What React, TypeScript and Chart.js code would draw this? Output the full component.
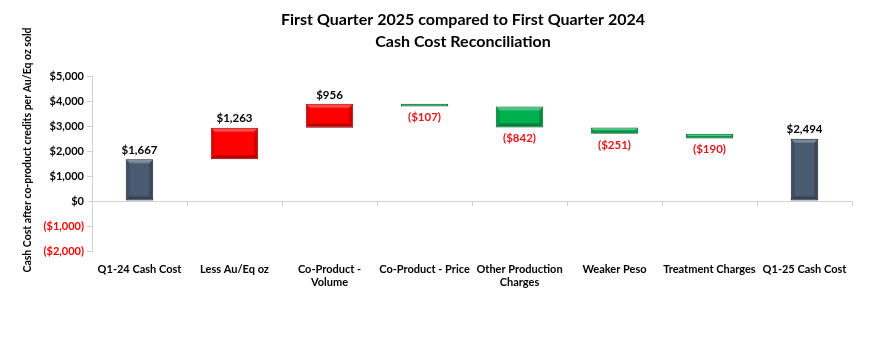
import React, { useEffect, useRef } from 'react';
import { Chart, registerables } from 'chart.js';

Chart.register(...registerables);

const categories: (string | string[])[] = [
  'Q1-24 Cash Cost',
  'Less Au/Eq oz',
  ['Co-Product -', 'Volume'],
  'Co-Product - Price',
  ['Other Production', 'Charges'],
  'Weaker Peso',
  'Treatment Charges',
  'Q1-25 Cash Cost',
];
const totals: (number | null)[] = [1667, null, null, null, null, null, null, 2494];
const changes: (number | null)[] = [null, 1263, 956, -107, -842, -251, -190, null];
const yMin = -2000;
const yMax = 5000;
const yStep = 1000;
const titleLines = ['First Quarter 2025 compared to First Quarter 2024', 'Cash Cost Reconciliation'];
const yTitle = 'Cash Cost after co-product credits per Au/Eq oz sold';

const FONT = 'Lato, "Open Sans", sans-serif';
const RED = '#ff0000';
const LABEL_RED = '#e8151b';

function fmt(v: number): string {
  const s = '$' + Math.abs(v).toLocaleString('en-US');
  return v < 0 ? '(' + s + ')' : s;
}

export default function App() {
  const ref = useRef<HTMLCanvasElement>(null);
  useEffect(() => {
    const canvas = ref.current;
    if (!canvas) return;

    let running = 0;
    const totalData: any[] = [];
    const changeData: any[] = [];
    categories.forEach((_, i) => {
      if (totals[i] != null) {
        running = totals[i] as number;
        totalData.push([0, totals[i]]);
        changeData.push(null);
      } else if (changes[i] != null) {
        const d = changes[i] as number;
        changeData.push([running, running + d]);
        running += d;
        totalData.push(null);
      } else {
        totalData.push(null);
        changeData.push(null);
      }
    });
    const changeColors = changes.map((c) => (c != null && c < 0 ? '#00b050' : RED));
    const changeBorders = changes.map((c) => (c != null && c < 0 ? '#0a5a2c' : '#8a0000'));

    const titlePlugin = {
      id: 'customTitles',
      afterDraw(chart: any) {
        const ctx = chart.ctx;
        ctx.save();
        ctx.fillStyle = '#000';
        ctx.textAlign = 'center';
        ctx.textBaseline = 'middle';
        ctx.font = `bold 16px ${FONT}`;
        ctx.fillText(titleLines[0], 463, 20);
        ctx.fillText(titleLines[1], 463, 42);
        ctx.translate(28, 150);
        ctx.rotate(-Math.PI / 2);
        ctx.font = `bold 10.5px ${FONT}`;
        ctx.fillText(yTitle, 0, 0);
        ctx.restore();
      },
    };

    const zeroLinePlugin = {
      id: 'zeroLine',
      beforeDatasetsDraw(chart: any) {
        const ctx = chart.ctx;
        const y = Math.round(chart.scales.y.getPixelForValue(0)) + 0.5;
        const { left, right } = chart.chartArea;
        ctx.save();
        ctx.strokeStyle = '#d0d0d0';
        ctx.lineWidth = 1;
        ctx.beginPath();
        ctx.moveTo(left, y);
        ctx.lineTo(right, y);
        const n = categories.length;
        for (let i = 0; i <= n; i++) {
          const x = Math.round(left + ((right - left) * i) / n) + 0.5;
          ctx.moveTo(x, y);
          ctx.lineTo(x, y + 5);
        }
        ctx.stroke();
        ctx.restore();
      },
    };

    function poly(ctx: any, pts: number[][], color: string) {
      ctx.fillStyle = color;
      ctx.beginPath();
      ctx.moveTo(pts[0][0], pts[0][1]);
      for (let k = 1; k < pts.length; k++) ctx.lineTo(pts[k][0], pts[k][1]);
      ctx.closePath();
      ctx.fill();
    }

    const labelPlugin = {
      id: 'barLabels',
      afterDatasetsDraw(chart: any) {
        const ctx = chart.ctx;
        ctx.save();
        chart.data.datasets.forEach((ds: any, di: number) => {
          const meta = chart.getDatasetMeta(di);
          meta.data.forEach((el: any, i: number) => {
            const raw = ds.data[i];
            if (!raw) return;
            const top = Math.min(el.y, el.base);
            const bottom = Math.max(el.y, el.base);
            const w = el.width;
            // bevel inside the 1px border
            const L = el.x - w / 2 + 1;
            const R = el.x + w / 2 - 1;
            const T = top + 1;
            const B = bottom - 1;
            const h = B - T;
            if (h > 2) {
              const b = Math.min(3, h / 2.5);
              poly(ctx, [[L, T], [R, T], [R - b, T + b], [L + b, T + b]], 'rgba(255,255,255,0.28)');
              poly(ctx, [[L, B], [R, B], [R - b, B - b], [L + b, B - b]], 'rgba(0,0,0,0.28)');
              poly(ctx, [[L, T], [L + b, T + b], [L + b, B - b], [L, B]], 'rgba(0,0,0,0.12)');
              poly(ctx, [[R, T], [R - b, T + b], [R - b, B - b], [R, B]], 'rgba(0,0,0,0.2)');
            }
            const v = di === 0 ? totals[i] : changes[i];
            if (v == null) return;
            ctx.font = `bold 11.5px ${FONT}`;
            ctx.textAlign = 'center';
            ctx.textBaseline = 'middle';
            if (v >= 0) {
              ctx.fillStyle = '#000';
              ctx.fillText(fmt(v), el.x, top - 9);
            } else {
              ctx.fillStyle = LABEL_RED;
              ctx.fillText(fmt(v), el.x, bottom + 11);
            }
          });
        });
        ctx.restore();
      },
    };

    const chart = new Chart(canvas, {
      type: 'bar',
      data: {
        labels: categories as any,
        datasets: [
          {
            label: 'Totals',
            data: totalData,
            backgroundColor: '#4a5a70',
            borderColor: '#141b24',
            borderWidth: 1,
            borderSkipped: false,
            barPercentage: 0.29,
            categoryPercentage: 1,
            grouped: false,
          } as any,
          {
            label: 'Changes',
            data: changeData,
            backgroundColor: changeColors,
            borderColor: changeBorders,
            borderWidth: 1,
            borderSkipped: false,
            barPercentage: 0.5,
            categoryPercentage: 1,
            grouped: false,
          } as any,
        ],
      },
      options: {
        responsive: false,
        animation: false,
        layout: { padding: { left: 0, right: 34, top: 76, bottom: 0 } },
        plugins: {
          legend: { display: false },
          title: { display: false },
          tooltip: { enabled: false },
        },
        scales: {
          x: {
            grid: { display: false, drawTicks: false },
            border: { display: false },
            ticks: {
              padding: 12,
              color: '#000',
              font: { family: FONT, size: 11, weight: 'bold' },
              maxRotation: 0,
              autoSkip: false,
            },
            afterFit(scale: any) {
              scale.height = 96;
            },
          },
          y: {
            min: yMin,
            max: yMax,
            grid: { drawOnChartArea: false, drawTicks: true, tickLength: 5, color: '#d0d0d0' },
            border: { display: true, color: '#d0d0d0' },
            ticks: {
              stepSize: yStep,
              padding: 3,
              color: (c: any) => (c.tick && c.tick.value < 0 ? RED : '#000'),
              font: { family: FONT, size: 11, weight: 'bold' },
              callback: (v: any) => fmt(Number(v)),
            },
            afterFit(scale: any) {
              scale.width = 92;
            },
          },
        },
      } as any,
      plugins: [titlePlugin, zeroLinePlugin, labelPlugin],
    });
    return () => chart.destroy();
  }, []);

  return (
    <div style={{ position: 'absolute', left: 0, top: 0, width: 886, height: 347, background: '#fff' }}>
      <canvas ref={ref} width={886} height={347} style={{ width: 886, height: 347 }} />
    </div>
  );
}
